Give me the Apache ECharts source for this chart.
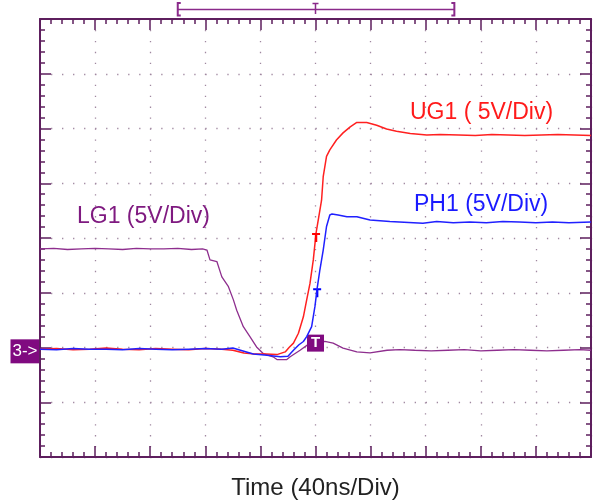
<!DOCTYPE html>
<html><head><meta charset="utf-8">
<style>html,body{margin:0;padding:0;background:#fff;}#c{width:598px;height:502px;}</style>
<script src="https://cdn.jsdelivr.net/npm/echarts/dist/echarts.min.js"></script>
</head><body><div id="c"></div>
<script>
// Time in divisions (40 ns/div), amplitude in divisions (5 V/div)
const ugT = [0,0.3,0.6,0.9,1.2,1.5,1.8,2.1,2.4,2.7,3.0,3.3,3.5,3.7,3.9,4.1,4.3,4.45,4.52,4.60,4.69,4.78,4.84,4.90,4.96,5.01,5.07,5.11,5.14,5.20,5.26,5.38,5.50,5.63,5.75,5.93,6.11,6.29,6.47,6.72,7.02,7.26,7.6,7.9,8.2,8.5,8.8,9.1,9.4,9.7,10];
const ugV = [1.97,1.98,1.96,1.97,1.99,1.97,1.96,1.98,1.97,1.96,1.98,1.97,1.95,1.90,1.88,1.88,1.87,1.92,2.00,2.08,2.26,2.56,2.87,3.17,3.60,4.09,4.45,4.69,5.12,5.49,5.61,5.79,5.92,6.03,6.11,6.11,6.06,5.99,5.95,5.91,5.88,5.89,5.88,5.87,5.89,5.88,5.87,5.88,5.89,5.88,5.87];
const phT = [0,0.3,0.6,0.9,1.2,1.5,1.8,2.1,2.4,2.7,3.0,3.3,3.5,3.87,4.12,4.36,4.50,4.60,4.70,4.78,4.84,4.93,4.99,5.03,5.08,5.14,5.20,5.26,5.30,5.41,5.57,5.75,5.99,6.35,6.95,7.20,7.5,7.8,8.1,8.4,8.7,9.0,9.3,9.6,10];
const phV = [1.97,1.96,1.98,1.97,1.97,1.96,1.98,1.97,1.96,1.97,1.98,1.97,1.99,1.88,1.86,1.83,1.84,1.95,2.05,2.11,2.20,2.38,2.75,3.08,3.42,3.78,4.21,4.42,4.44,4.42,4.39,4.39,4.33,4.30,4.27,4.30,4.28,4.29,4.28,4.30,4.29,4.28,4.29,4.28,4.29];
const lgT = [0,0.25,0.5,0.75,1.0,1.25,1.5,1.75,2.0,2.25,2.5,2.75,2.95,3.03,3.085,3.21,3.30,3.42,3.51,3.57,3.69,3.81,3.93,4.05,4.23,4.30,4.48,4.54,4.72,4.90,5.17,5.32,5.50,5.75,5.99,6.30,6.53,6.8,7.1,7.4,7.7,8.0,8.3,8.6,8.9,9.2,9.5,9.8,10];
const lgV = [3.80,3.81,3.79,3.80,3.81,3.80,3.79,3.81,3.80,3.80,3.81,3.79,3.80,3.78,3.60,3.57,3.29,3.11,2.87,2.68,2.38,2.20,2.01,1.89,1.83,1.78,1.78,1.83,1.95,2.08,2.11,2.08,1.99,1.92,1.90,1.95,1.96,1.95,1.94,1.95,1.96,1.94,1.95,1.96,1.95,1.94,1.95,1.96,1.95];
const seriesNames = ['UG1 ( 5V/Div)', 'PH1 (5V/Div)', 'LG1 (5V/Div)'];
const xTitle = 'Time (40ns/Div)';
const trigT = 5.0, trigLevel = 2.08;      // trigger marker
const ch3Ground = 1.93;                    // channel 3 ground marker
const winStart = 2.5, winEnd = 7.52;       // record window bracket

const zip = (a, b) => a.map((v, i) => [v, b[i]]);
const frame = '#5e1f5e', dot = '#a088a0', purple = '#800a80';
const font = '"Liberation Sans", Arial, sans-serif';

function xAx(pos) {
  return {
    type: 'value', position: pos, min: 0, max: 10, interval: 1,
    axisLine: { show: true, onZero: false, lineStyle: { color: frame, width: 2 } },
    axisTick: { show: true, inside: true, length: 11, lineStyle: { color: frame, width: 1.5 } },
    minorTick: { show: true, splitNumber: 5, length: 5, lineStyle: { color: frame, width: 1.5 } },
    axisLabel: { show: false },
    splitLine: { show: pos === 'bottom', lineStyle: { color: dot, width: 1.3, type: [1.3, 9.65] } },
    name: pos === 'bottom' ? xTitle : '', nameLocation: 'middle', nameGap: 19,
    nameTextStyle: { fontSize: 24, color: '#222', fontFamily: font }
  };
}
function yAx(pos) {
  return {
    type: 'value', position: pos, min: 0, max: 8, interval: 1,
    axisLine: { show: true, onZero: false, lineStyle: { color: frame, width: 2 } },
    axisTick: { show: true, inside: true, length: 11, lineStyle: { color: frame, width: 1.5 } },
    minorTick: { show: true, splitNumber: 5, length: 5, lineStyle: { color: frame, width: 1.5 } },
    axisLabel: { show: false },
    splitLine: { show: pos === 'left', lineStyle: { color: dot, width: 1.3, type: [1.3, 9.72] } }
  };
}
const tMark = 'path://M0,0H8V2H5.2V9H2.8V2H0Z';
const chart = echarts.init(document.getElementById('c'));
chart.setOption({
  animation: false,
  grid: { left: 40, top: 19, width: 551, height: 438, containLabel: false, outerBoundsMode: 'none' },
  xAxis: [xAx('bottom'), xAx('top')],
  yAxis: [yAx('left'), yAx('right')],
  series: [
    { name: seriesNames[2], type: 'line', data: zip(lgT, lgV), showSymbol: false, lineStyle: { color: '#8e2e8e', width: 1.3 }, z: 3,
      markPoint: { symbol: 'rect', symbolSize: 17, silent: true, data: [{ coord: [trigT, trigLevel] }],
        itemStyle: { color: purple }, label: { show: true, formatter: 'T', color: '#fff', fontSize: 15, fontWeight: 'bold', fontFamily: font } } },
    { name: seriesNames[0], type: 'line', data: zip(ugT, ugV), showSymbol: false, lineStyle: { color: '#ff2020', width: 1.5 }, z: 4,
      markPoint: { symbol: tMark, symbolSize: [8, 9], symbolOffset: [0, 4.5], silent: true, itemStyle: { color: '#ff0000' }, label: { show: false },
        data: [{ coord: [ugT[25], ugV[25]] }] } },
    { name: seriesNames[1], type: 'line', data: zip(phT, phV), showSymbol: false, lineStyle: { color: '#2020ff', width: 1.5 }, z: 5,
      markPoint: { symbol: tMark, symbolSize: [8, 9], symbolOffset: [0, 4.5], silent: true, itemStyle: { color: '#0000ff' }, label: { show: false },
        data: [{ coord: [phT[23], phV[23]] }] } }
  ]
});
const px = v => chart.convertToPixel({ xAxisIndex: 0 }, v);
const py = v => chart.convertToPixel({ yAxisIndex: 0 }, v);
const x0 = px(winStart), x1 = px(winEnd), xt = px(trigT), gy = py(ch3Ground);
const bc = '#8a2a8a';
chart.setOption({
  graphic: [
    { type: 'line', shape: { x1: x0, y1: 9.5, x2: x1, y2: 9.5 }, style: { stroke: bc, lineWidth: 1.5 } },
    { type: 'polyline', shape: { points: [[x0 + 3, 3], [x0, 3], [x0, 15.5], [x0 + 3, 15.5]] }, style: { stroke: bc, lineWidth: 2, fill: null } },
    { type: 'polyline', shape: { points: [[x1 - 3, 3], [x1, 3], [x1, 15.5], [x1 - 3, 15.5]] }, style: { stroke: bc, lineWidth: 2, fill: null } },
    { type: 'polyline', shape: { points: [[xt - 3, 3.5], [xt + 3, 3.5]] }, style: { stroke: bc, lineWidth: 1.5, fill: null } },
    { type: 'line', shape: { x1: xt, y1: 3.5, x2: xt, y2: 14 }, style: { stroke: bc, lineWidth: 1.5 } },
    { type: 'rect', shape: { x: 10.5, y: gy - 12, width: 29.5, height: 24 }, style: { fill: purple } },
    { type: 'text', x: 25, y: gy, style: { text: '3->', fill: '#fff', font: '17px ' + font, align: 'center', verticalAlign: 'middle' } },
    { type: 'text', x: 410, y: 112.5, style: { text: seriesNames[0], fill: '#ff1a1a', font: '23px ' + font, verticalAlign: 'middle' } },
    { type: 'text', x: 414, y: 204.5, style: { text: seriesNames[1], fill: '#1a1aff', font: '23px ' + font, verticalAlign: 'middle' } },
    { type: 'text', x: 77, y: 216.3, style: { text: seriesNames[2], fill: '#7f1a80', font: '23px ' + font, verticalAlign: 'middle' } }
  ]
});
</script></body></html>
